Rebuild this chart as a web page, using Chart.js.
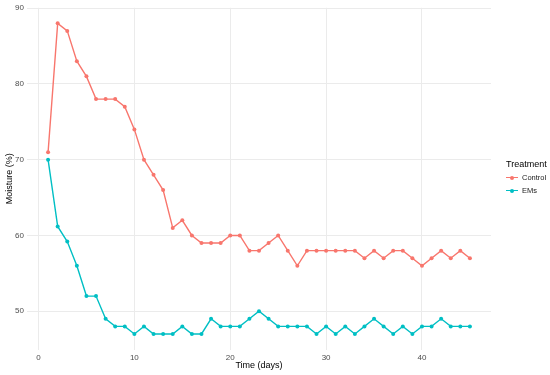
<!DOCTYPE html>
<html>
<head>
<meta charset="utf-8">
<script src="https://cdn.jsdelivr.net/npm/chart.js@4/dist/chart.umd.min.js"></script>
<style>
  html,body{margin:0;padding:0;background:#fff;}
  #wrap{position:relative;width:550px;height:375px;font-family:"Liberation Sans",Arial,sans-serif;}
  #legend{position:absolute;left:506px;top:157px;color:#000;}
  #legend .ttl{font-size:9px;line-height:14px;}
  #legend .row{position:relative;height:13px;font-size:7.5px;line-height:13px;padding-left:16px;color:#1a1a1a;}
  #legend .key{position:absolute;left:0;top:6px;width:12px;height:1.3px;}
  #legend .dot{position:absolute;left:4px;top:-1.5px;width:4px;height:4px;border-radius:50%;}
</style>
</head>
<body>
<div id="wrap">
  <canvas id="chart" width="550" height="375"></canvas>
  <div id="legend"></div>
</div>
<script>
// dias de muestreo
const days = [1,2,3,4,5,6,7,8,9,10,11,12,13,14,15,16,17,18,19,20,21,22,23,24,25,26,27,28,29,30,31,32,33,34,35,36,37,38,39,40,41,42,43,44,45];

// humedad (%) por tratamiento
const control = [71,88,87,83,81,78,78,78,77,74,70,68,66,61,62,60,59,59,59,60,60,58,58,59,60,58,56,58,58,58,58,58,58,57,58,57,58,58,57,56,57,58,57,58,57];
const ems     = [70,61.2,59.2,56,52,52,49,48,48,47,48,47,47,47,48,47,47,49,48,48,48,49,50,49,48,48,48,48,47,48,47,48,47,48,49,48,47,48,47,48,48,49,48,48,48];

const seriesNames = ["Control","EMs"];
const seriesColors = ["#F8766D","#00BFC4"];
const xTicks = [0,10,20,30,40];
const yTicks = [50,60,70,80,90];

const tickFont = {family:"'Liberation Sans', Arial, sans-serif", size:8};
const titleFont = {family:"'Liberation Sans', Arial, sans-serif", size:9};

function toPoints(vals){
  return vals.map((v,i)=>({x:days[i], y:v}));
}

const datasets = [control, ems].map((vals,i)=>({
  label: seriesNames[i],
  data: toPoints(vals),
  borderColor: seriesColors[i],
  backgroundColor: seriesColors[i],
  borderWidth: 1.4,
  pointRadius: 2,
  pointBorderWidth: 0,
  tension: 0
}));

new Chart(document.getElementById("chart"),{
  type:"line",
  data:{datasets},
  options:{
    responsive:false,
    animation:false,
    layout:{padding:{top:5.6,right:59,left:0,bottom:0}},
    plugins:{legend:{display:false},tooltip:{enabled:false}},
    scales:{
      x:{
        type:"linear",
        min:-1.2, max:47.2,
        afterBuildTicks:s=>{ s.ticks = xTicks.map(v=>({value:v})); },
        afterFit:s=>{ s.height = 25.5; },
        grid:{color:"#EBEBEB",lineWidth:1,drawTicks:false},
        border:{display:false},
        ticks:{font:tickFont,color:"#4D4D4D",padding:3,maxRotation:0},
        title:{display:true,text:"Time (days)",font:titleFont,color:"#000",padding:{top:0,bottom:3.6}}
      },
      y:{
        type:"linear",
        min:44.95, max:90.05,
        afterBuildTicks:s=>{ s.ticks = yTicks.map(v=>({value:v})); },
        afterFit:s=>{ s.width = 27; },
        grid:{color:"#EBEBEB",lineWidth:1,drawTicks:false},
        border:{display:false},
        ticks:{font:tickFont,color:"#4D4D4D",padding:3},
        title:{display:true,text:"Moisture (%)",font:titleFont,color:"#000",padding:{top:4,bottom:0}}
      }
    }
  }
});

// leyenda en HTML
const legend = document.getElementById("legend");
legend.innerHTML = `<div class="ttl">Treatment</div>` + seriesNames.map((n,i)=>`
  <div class="row"><span class="key" style="background:${seriesColors[i]}"><span class="dot" style="background:${seriesColors[i]}"></span></span>${n}</div>
`).join("");
</script>
</body>
</html>
